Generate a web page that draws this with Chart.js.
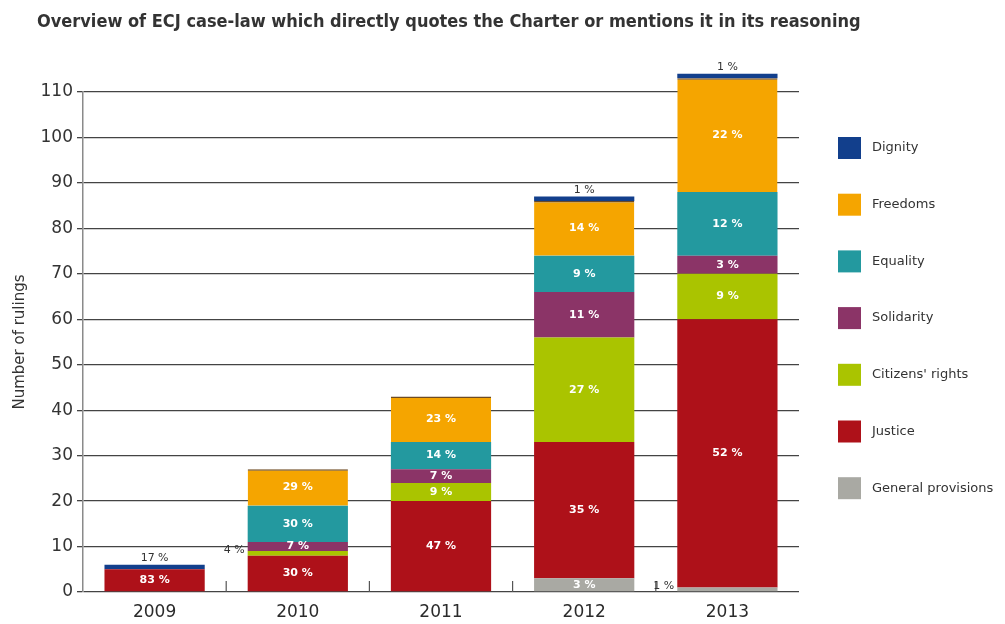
<!DOCTYPE html>
<html>
<head>
<meta charset="utf-8">
<title>ECJ case-law quoting the Charter</title>
<script src="https://cdn.jsdelivr.net/npm/chart.js@4.4.1/dist/chart.umd.min.js"></script>
<style>
  html, body { margin: 0; padding: 0; background: #ffffff; }
  canvas { display: block; }
</style>
</head>
<body>
<canvas id="rulingsChart" width="1005" height="624"></canvas>
<script>
// ---- data (number of rulings per year and Charter title) ----
const years = ['2009', '2010', '2011', '2012', '2013'];
const yStep = 10;
const yTop = 110;

const generalProvisions = [0, 0, 0, 3, 1];
const justice          = [5, 8, 20, 30, 59];
const citizensRights   = [0, 1, 4, 23, 10];
const solidarity       = [0, 2, 3, 10, 4];
const equality         = [0, 8, 6, 8, 14];
const freedoms         = [0, 8, 10, 12, 25];
const dignity          = [1, 0, 0, 1, 1];

// share labels printed on the bars
const pctGeneral    = [null, null, null, '3 %', '1 %'];
const pctJustice    = ['83 %', '30 %', '47 %', '35 %', '52 %'];
const pctCitizens   = [null, '4 %', '9 %', '27 %', '9 %'];
const pctSolidarity = [null, '7 %', '7 %', '11 %', '3 %'];
const pctEquality   = [null, '30 %', '14 %', '9 %', '12 %'];
const pctFreedoms   = [null, '29 %', '23 %', '14 %', '22 %'];
const pctDignity    = ['17 %', null, null, '1 %', '1 %'];

const titleText = 'Overview of ECJ case-law which directly quotes the Charter or mentions it in its reasoning';

// ---- plugins ----
const chartTitle = {
  id: 'chartTitle',
  afterDraw(chart) {
    const ctx = chart.ctx;
    ctx.save();
    ctx.font = 'bold 18px "DejaVu Sans Condensed", "DejaVu Sans", sans-serif';
    ctx.fillStyle = '#333333';
    ctx.textAlign = 'left';
    ctx.textBaseline = 'middle';
    ctx.fillText(titleText, 37, 22);
    ctx.restore();
  }
};

// legend column on the right, widely spaced (built from the datasets)
const sideLegend = {
  id: 'sideLegend',
  afterDraw(chart) {
    const ctx = chart.ctx;
    const area = chart.chartArea;
    const items = chart.data.datasets.slice().reverse();
    ctx.save();
    ctx.font = '13px "DejaVu Sans", sans-serif';
    ctx.textAlign = 'left';
    ctx.textBaseline = 'middle';
    items.forEach((ds, k) => {
      const cy = area.top + 56 + k * 56.7;
      ctx.fillStyle = ds.backgroundColor;
      ctx.fillRect(area.right + 39, cy - 11, 23, 22);
      ctx.fillStyle = '#333333';
      ctx.fillText(ds.label, area.right + 73, cy);
    });
    ctx.restore();
  }
};

// small ticks between the year columns, sitting on the baseline
const columnTicks = {
  id: 'columnTicks',
  beforeDatasetsDraw(chart) {
    const ctx = chart.ctx;
    const x = chart.scales.x;
    const base = chart.scales.y.getPixelForValue(0);
    ctx.save();
    ctx.strokeStyle = '#555555';
    ctx.lineWidth = 1.2;
    for (let i = 0; i < years.length - 1; i++) {
      const px = (x.getPixelForValue(i) + x.getPixelForValue(i + 1)) / 2;
      ctx.beginPath();
      ctx.moveTo(px, base);
      ctx.lineTo(px, base - 11);
      ctx.stroke();
    }
    ctx.restore();
  }
};

const segmentLabels = {
  id: 'segmentLabels',
  afterDatasetsDraw(chart) {
    const ctx = chart.ctx;
    ctx.save();
    chart.data.datasets.forEach((ds, i) => {
      const meta = chart.getDatasetMeta(i);
      if (meta.hidden) return;
      meta.data.forEach((bar, j) => {
        const text = ds.pct[j];
        if (!text) return;
        const place = ds.pctPlace ? ds.pctPlace[j] : 'in';
        const midY = (bar.y + bar.base) / 2;
        if (place === 'above') {
          ctx.font = '11px "DejaVu Sans", sans-serif';
          ctx.fillStyle = '#333333';
          ctx.textAlign = 'center';
          ctx.textBaseline = 'bottom';
          ctx.fillText(text, bar.x, bar.y - 1);
        } else if (place === 'left') {
          ctx.font = '11px "DejaVu Sans", sans-serif';
          ctx.fillStyle = '#333333';
          ctx.textAlign = 'right';
          ctx.textBaseline = 'middle';
          ctx.fillText(text, bar.x - bar.width / 2 - 3, midY - 3);
        } else {
          ctx.font = 'bold 11px "DejaVu Sans", sans-serif';
          ctx.fillStyle = '#ffffff';
          ctx.textAlign = 'center';
          ctx.textBaseline = 'middle';
          ctx.fillText(text, bar.x, midY);
        }
      });
    });
    ctx.restore();
  }
};

// ---- chart ----
Chart.defaults.font.family = '"DejaVu Sans", sans-serif';
Chart.defaults.color = '#333333';

const barStyle = {
  barPercentage: 0.7,
  categoryPercentage: 1.0,
  borderWidth: 0,
  borderSkipped: false,
  clip: false
};

new Chart(document.getElementById('rulingsChart').getContext('2d'), {
  type: 'bar',
  data: {
    labels: years,
    datasets: [
      { label: 'General provisions', data: generalProvisions, backgroundColor: '#a9a9a3', pct: pctGeneral, pctPlace: ['in', 'in', 'in', 'in', 'left'], ...barStyle },
      { label: 'Justice', data: justice, backgroundColor: '#ae1119', pct: pctJustice, ...barStyle },
      { label: "Citizens' rights", data: citizensRights, backgroundColor: '#aac400', pct: pctCitizens, pctPlace: ['in', 'left', 'in', 'in', 'in'], ...barStyle },
      { label: 'Solidarity', data: solidarity, backgroundColor: '#8b3467', pct: pctSolidarity, ...barStyle },
      { label: 'Equality', data: equality, backgroundColor: '#23999f', pct: pctEquality, ...barStyle },
      { label: 'Freedoms', data: freedoms, backgroundColor: '#f5a500', pct: pctFreedoms, ...barStyle,
        borderColor: '#6e4b22', borderWidth: { top: 1.5, left: 0, right: 0, bottom: 0 } },
      { label: 'Dignity', data: dignity, backgroundColor: '#123f8c', pct: pctDignity, pctPlace: ['above', 'above', 'above', 'above', 'above'], ...barStyle }
    ]
  },
  options: {
    responsive: false,
    animation: false,
    layout: {
      padding: { top: 92, right: 206, bottom: 3, left: 0 }
    },
    plugins: {
      title: { display: false },
      tooltip: { enabled: false },
      legend: { display: false }
    },
    scales: {
      x: {
        stacked: true,
        afterFit(scale) { scale.height = 29; },
        grid: { display: false, drawTicks: false },
        border: { display: false },
        ticks: {
          color: '#2b2b2b',
          padding: 10,
          font: { size: 17 }
        }
      },
      y: {
        stacked: true,
        min: 0,
        max: yTop,
        afterFit(scale) { scale.width = 83; },
        grid: {
          color: '#444444',
          lineWidth: 1.3,
          tickLength: 6
        },
        border: { display: true, color: '#8a8a8a', width: 1.5 },
        ticks: {
          stepSize: yStep,
          padding: 4,
          color: '#333333',
          font: { size: 17 }
        },
        title: {
          display: true,
          text: 'Number of rulings',
          color: '#333333',
          padding: { top: 11, bottom: 0 },
          font: { size: 15 }
        }
      }
    }
  },
  plugins: [chartTitle, columnTicks, segmentLabels, sideLegend]
});
</script>
</body>
</html>
